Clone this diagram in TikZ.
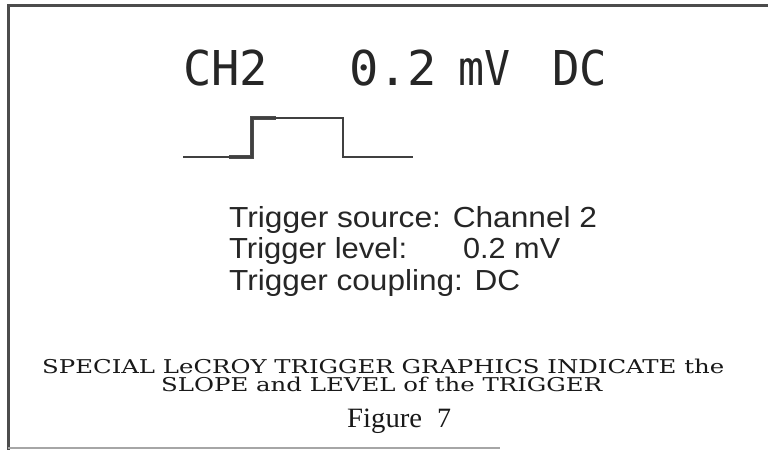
\documentclass[tikz,border=0pt]{standalone}
\usepackage{fontspec}
\setmainfont{Liberation Sans}
\newfontfamily\scopefont{DejaVu Sans Mono}
\newfontfamily\capfont{DejaVu Serif}
\newfontfamily\figfont{Liberation Serif}
\newsavebox\fitbox
\newlength\fitlen
\newcommand\fitw[2]{\sbox\fitbox{#2}\setlength\fitlen{\wd\fitbox}\pgfmathsetmacro\fitratio{#1/\fitlen}\scalebox{\fitratio}[1]{\usebox\fitbox}}
\begin{document}
\begin{tikzpicture}[x=1pt,y=-1pt,
  bigtext/.style={inner sep=0pt, anchor=base west, font=\scopefont\fontsize{48}{48}\selectfont, text=black!85},
  midtext/.style={inner sep=0pt, anchor=base west, font=\fontsize{29}{29}\selectfont, text=black!85},
  captext/.style={inner sep=0pt, anchor=base west, font=\capfont\fontsize{19}{19}\selectfont, text=black!90},
  figtext/.style={inner sep=0pt, anchor=base west, font=\figfont\fontsize{28}{28}\selectfont, text=black!90},
  bordline/.style={draw=black!70, line width=2.2pt},
  waveline/.style={draw=black!75, line width=1.6pt},
  trigline/.style={draw=black!70, line width=4.5pt}]
\useasboundingbox (0,0) rectangle (768,450);
\fill[white] (0,0) rectangle (768,450);
% frame
\draw[bordline] (7,5.5) -- (768,5.5);
\draw[bordline] (8.5,5) -- (8.5,450);
\draw[draw=black!35, line width=1.2pt] (8,448) -- (500,448);
% scope header
\node[bigtext] (ch) at (183,85) {\fitw{85}{CH2}};
\node[bigtext] (val) at (349,85) {\fitw{88}{0.2}};
\node[bigtext] (unit) at (458,85) {\fitw{52}{mV}};
\node[bigtext] (cpl) at (552,85) {\fitw{55}{DC}};
% waveform
\draw[trigline] (229,157) -- (252,157) -- (252,118) -- (276,118);
\draw[waveline] (183,157) -- (252,157) -- (252,118) -- (343,118) -- (343,157) -- (413,157);
% trigger text
\node[midtext] (l1) at (229,227) {\fitw{368}{Trigger source: Channel 2}};
\node[midtext] (l2) at (229,258) {\fitw{178}{Trigger level:}};
\node[midtext] (l2v) at (463,258) {\fitw{97}{0.2 mV}};
\node[midtext] (l3) at (229,290) {\fitw{291}{Trigger coupling: DC}};
% caption
\node[captext] (c1) at (42,373) {\fitw{682}{SPECIAL LeCROY TRIGGER GRAPHICS INDICATE the}};
\node[captext] (c2) at (161,391) {\fitw{441}{SLOPE and LEVEL of the TRIGGER}};
\node[figtext] (c3) at (347,427) {\fitw{75}{Figure}};
\node[figtext] (c4) at (437,427) {7};
\end{tikzpicture}
\end{document}
